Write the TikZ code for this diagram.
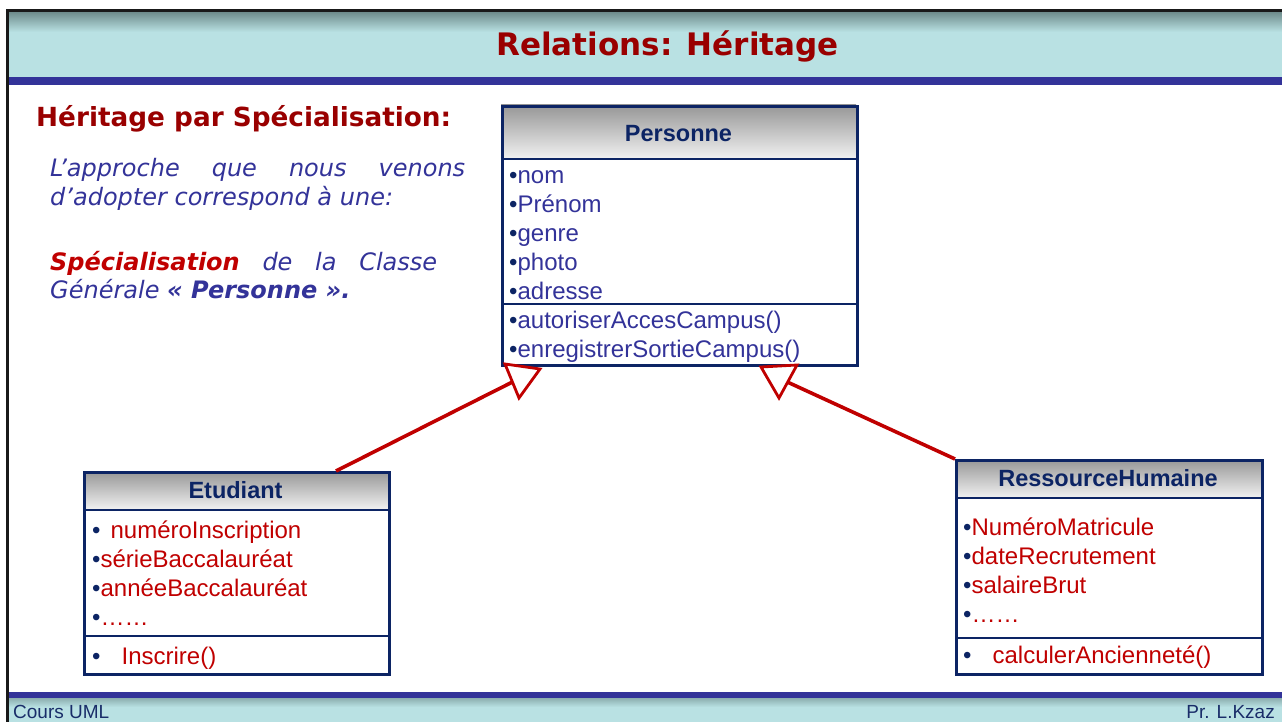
\documentclass[tikz,border=0pt]{standalone}
\usepackage{fontspec}
\setmainfont{Liberation Sans}
\newfontfamily\verd{DejaVu Sans}
\usetikzlibrary{calc}

\definecolor{navy}{RGB}{12,36,100}
\definecolor{txtblue}{RGB}{51,51,153}
\definecolor{itemred}{RGB}{192,0,0}
\definecolor{darkred}{RGB}{153,0,0}
\definecolor{barblue}{RGB}{51,51,153}
\definecolor{band}{RGB}{185,225,227}
\definecolor{bandtop}{RGB}{110,140,140}
\definecolor{hdrtop}{RGB}{150,150,150}
\definecolor{hdrbot}{RGB}{242,242,242}
\definecolor{footnavy}{RGB}{25,45,105}
\definecolor{frame}{RGB}{25,25,25}

\newcommand\bul{\textcolor{navy}{•}}

\begin{document}
\begin{tikzpicture}[x=1pt, y=-1pt,
  item/.style={anchor=base west, inner sep=0pt, font=\fontsize{24}{28.8}\selectfont},
  blueitem/.style={item, text=txtblue},
  reditem/.style={item, text=itemred},
  classname/.style={anchor=base, inner sep=0pt, text=navy, font=\bfseries\fontsize{23.5}{28}\selectfont},
  classbox/.style={draw=navy, line width=2.6pt, inner sep=0pt, anchor=north west},
  divider/.style={draw=navy, line width=2.6pt},
  para/.style={anchor=base west, inner sep=0pt, text=txtblue, font=\verd\itshape\fontsize{24}{29}\selectfont},
  gen/.style={draw=itemred, line width=3.6pt},
  genhead/.style={draw=itemred, line width=2.8pt, fill=white, line join=miter},
  foot/.style={inner sep=0pt, text=footnavy, font=\fontsize{19}{22}\selectfont}]

\useasboundingbox (0,0) rectangle (1282,722);
\fill[white] (0,0) rectangle (1282,722);

% title band
\shade[top color=bandtop, bottom color=band] (8,12) rectangle (1282,32);
\fill[band] (8,32) rectangle (1282,77);
\fill[barblue] (6,77) rectangle (1282,85);
\node[anchor=base, inner sep=0pt, text=darkred, font=\verd\bfseries\fontsize{31}{36}\selectfont] (title) at (667.5,56) {Relations: Héritage};

% footer band
\fill[barblue] (6,692) rectangle (1282,698);
\shade[top color=bandtop!60!band, bottom color=band] (8,698) rectangle (1282,707);
\fill[band] (8,707) rectangle (1282,722);
\node[foot, anchor=base west] (course) at (13,718) {Cours UML};
\node[foot, anchor=base east] (author) at (1275,718) {Pr. L.Kzaz};

% slide frame
\draw[frame, line width=2.4pt] (6,10.7) -- (1282,10.7);
\draw[frame, line width=2.4pt] (7.3,9.3) -- (7.3,722);

% left text
\node[anchor=base west, inner sep=0pt, text=darkred, font=\verd\bfseries\fontsize{26.3}{31}\selectfont] (heading) at (36,127) {Héritage par Spécialisation:};
\node[para] (l1) at (50,177) {\makebox[415pt][s]{L’approche que nous venons}};
\node[para] (l2) at (50,206) {d’adopter correspond à une:};
\node[para] (l3) at (50,270) {\makebox[387pt][s]{\textcolor{itemred}{\bfseries Spécialisation} de la Classe}};
\node[para] (l4) at (50,298) {Générale {\bfseries « Personne ».}};

% class Personne
\shade[top color=hdrtop, bottom color=hdrbot] (501,105) rectangle (856,159);
\node[classbox, minimum width=355pt, minimum height=259pt] (personne) at (501,105) {};
\draw[divider] (501,159) -- (856,159);
\draw[divider] (501,304) -- (856,304);
\node[classname] (pname) at (678.5,142) {Personne};
\node[blueitem] (pa1) at (509,184) {\bul nom};
\node[blueitem] (pa2) at (509,212.8) {\bul Prénom};
\node[blueitem] (pa3) at (509,241.6) {\bul genre};
\node[blueitem] (pa4) at (509,270.4) {\bul photo};
\node[blueitem] (pa5) at (509,299) {\bul adresse};
\node[blueitem] (pm1) at (509,328) {\bul autoriserAccesCampus()};
\node[blueitem] (pm2) at (509,357) {\bul enregistrerSortieCampus()};

% class Etudiant
\shade[top color=hdrtop, bottom color=hdrbot] (83,471) rectangle (388,510);
\node[classbox, minimum width=305pt, minimum height=202pt] (etu) at (83,471) {};
\draw[divider] (83,510) -- (388,510);
\draw[divider] (83,636) -- (388,636);
\node[classname] (ename) at (235.5,498) {Etudiant};
\node[reditem] (ea1) at (92,538) {\bul\hspace{10pt}numéroInscription};
\node[reditem] (ea2) at (92,567) {\bul sérieBaccalauréat};
\node[reditem] (ea3) at (92,596) {\bul annéeBaccalauréat};
\node[reditem] (ea4) at (92,625) {\bul ……};
\node[reditem] (em1) at (92,664) {\bul\hspace{21pt}Inscrire()};

% class RessourceHumaine
\shade[top color=hdrtop, bottom color=hdrbot] (955,459) rectangle (1261,498);
\node[classbox, minimum width=306pt, minimum height=214pt] (rh) at (955,459) {};
\draw[divider] (955,498) -- (1261,498);
\draw[divider] (955,638) -- (1261,638);
\node[classname] (rname) at (1108,486) {RessourceHumaine};
\node[reditem] (ra1) at (963,535) {\bul NuméroMatricule};
\node[reditem] (ra2) at (963,564) {\bul dateRecrutement};
\node[reditem] (ra3) at (963,593) {\bul salaireBrut};
\node[reditem] (ra4) at (963,622) {\bul ……};
\node[reditem] (rm1) at (963,663) {\bul\hspace{21pt}calculerAncienneté()};

% generalisation links
\coordinate (ta1) at (505,364);
\coordinate (ta2) at (540,369);
\coordinate (ta3) at (519,398);
\coordinate (ja) at ($(ta1)!0.53!(ta3)$);
\coordinate (tb1) at (761,367);
\coordinate (tb2) at (797,365);
\coordinate (tb3) at (779,398);
\coordinate (jb) at ($(tb2)!0.52!(tb3)$);

\draw[gen] ([xshift=253pt]etu.north west) -- (ja);
\draw[gen] (rh.north west) -- (jb);
\draw[genhead] (ta1) -- (ta2) -- (ta3) -- cycle;
\draw[genhead] (tb1) -- (tb2) -- (tb3) -- cycle;

\end{tikzpicture}
\end{document}
